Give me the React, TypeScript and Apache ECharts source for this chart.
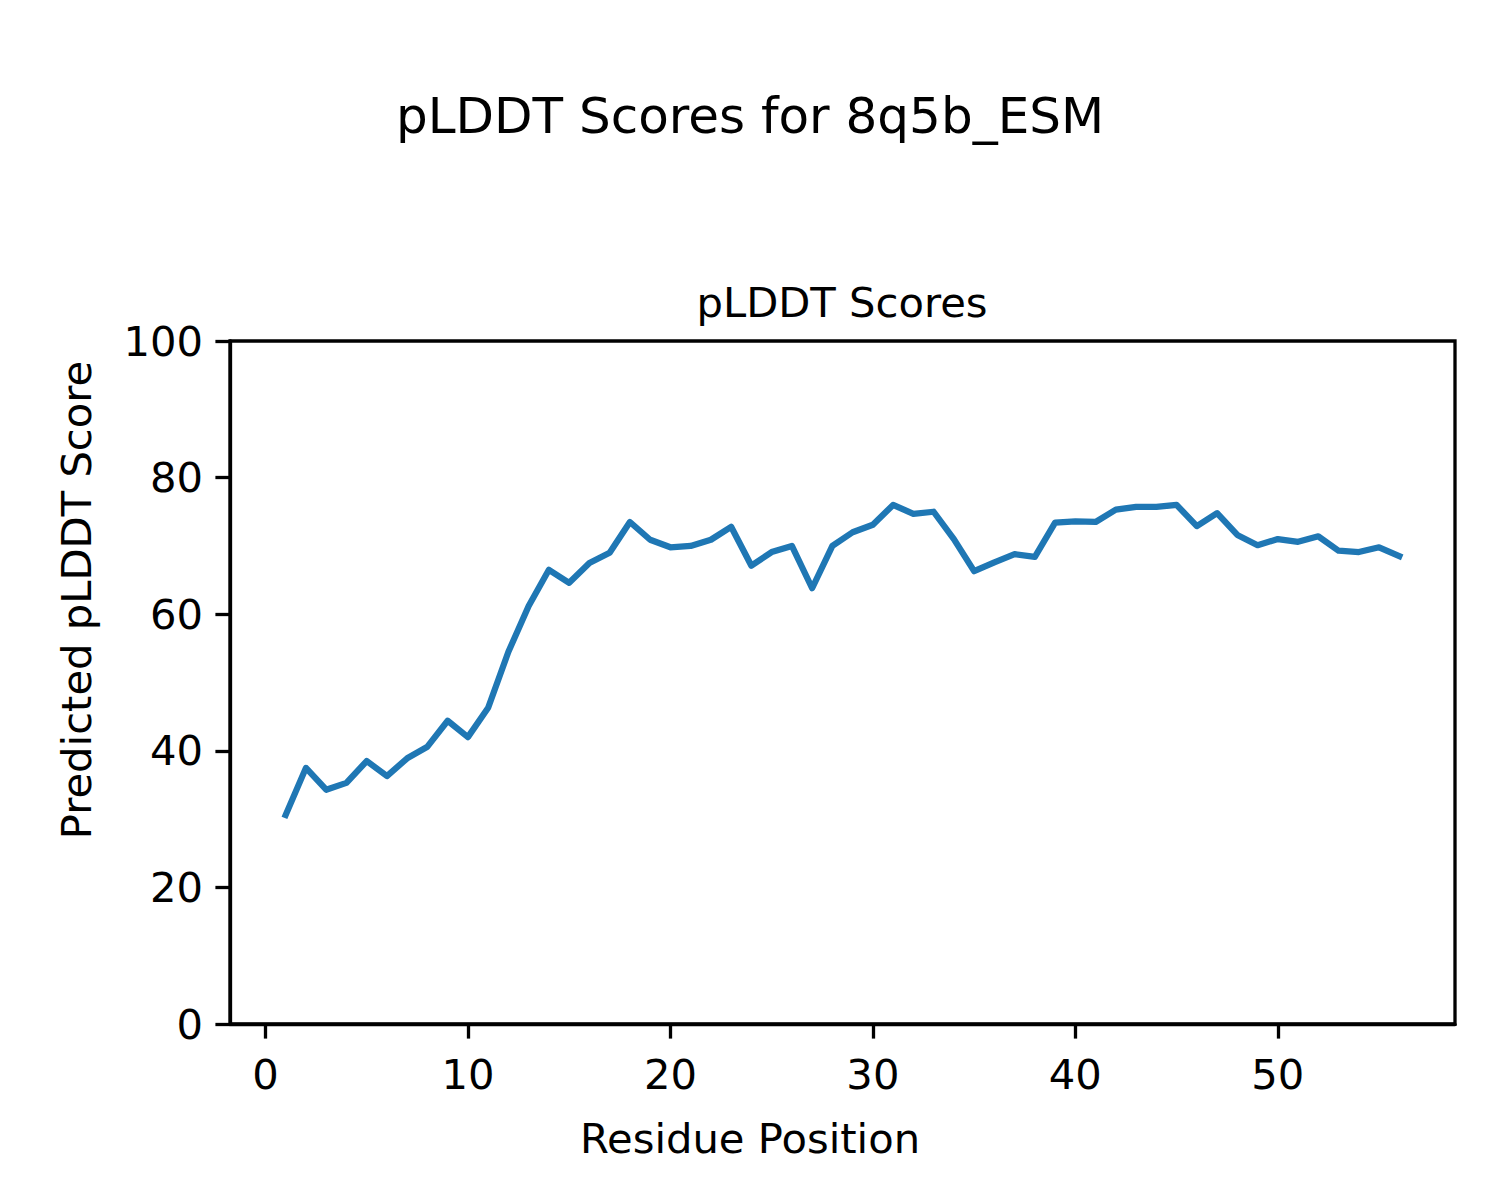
import React, { useEffect, useRef } from "react";
import * as echarts from "echarts";

const residues: number[] = Array.from({ length: 56 }, (_, i) => i + 1);
const plddt: number[] = [
  30.6, 37.5, 34.3, 35.3, 38.5, 36.3, 38.9, 40.6, 44.4, 42.0,
  46.3, 54.5, 61.2, 66.5, 64.6, 67.5, 69.0, 73.5, 70.9, 69.8,
  70.0, 70.9, 72.8, 67.1, 69.1, 70.0, 63.8, 70.0, 72.0, 73.1,
  76.0, 74.7, 75.0, 71.0, 66.3, 67.6, 68.8, 68.4, 73.4, 73.6,
  73.5, 75.3, 75.7, 75.7, 76.0, 72.9, 74.8, 71.6, 70.1, 71.0,
  70.6, 71.4, 69.3, 69.1, 69.8, 68.5,
];
const xTicks: number[] = [0, 10, 20, 30, 40, 50];
const suptitle = "pLDDT Scores for 8q5b_ESM";
const axesTitle = "pLDDT Scores";
const xName = "Residue Position";
const yName = "Predicted pLDDT Score";

const FONT = "DejaVu Sans";
const TICK_FS = 41.7;
const LW = 3.3;

export default function App() {
  const ref = useRef<HTMLDivElement>(null);
  useEffect(() => {
    document.body.style.margin = "0";
    const chart = echarts.init(ref.current!, undefined, { renderer: "svg" });
    const textStyle = { fontFamily: FONT, fill: "#000" };
    chart.setOption({
      animation: false,
      backgroundColor: "#fff",
      grid: {
        left: 230,
        top: 341,
        width: 1225,
        height: 683,
        show: true,
        borderColor: "#000",
        borderWidth: LW,
        backgroundColor: "transparent",
      },
      xAxis: {
        type: "value",
        min: -1.75,
        max: 58.75,
        splitLine: { show: false },
        axisLine: { show: true, onZero: false, lineStyle: { color: "#000", width: LW } },
        axisTick: {
          show: true,
          length: 14.6,
          inside: false,
          customValues: xTicks,
          lineStyle: { color: "#000", width: LW },
        },
        axisLabel: {
          customValues: xTicks,
          margin: 29,
          color: "#000",
          fontFamily: FONT,
          fontSize: TICK_FS,
        },
      },
      yAxis: {
        type: "value",
        min: 0,
        max: 100,
        interval: 20,
        splitLine: { show: false },
        axisLine: { show: true, onZero: false, lineStyle: { color: "#000", width: LW } },
        axisTick: { show: true, length: 14.6, lineStyle: { color: "#000", width: LW } },
        axisLabel: {
          margin: 27,
          color: "#000",
          fontFamily: FONT,
          fontSize: TICK_FS,
        },
      },
      series: [
        {
          type: "line",
          data: residues.map((r, i) => [r, plddt[i]]),
          showSymbol: false,
          symbol: "none",
          lineStyle: { color: "#1f77b4", width: 6.25, cap: "square", join: "round" },
          itemStyle: { color: "#1f77b4" },
        },
      ],
      graphic: [
        {
          type: "text",
          x: 750,
          y: 116,
          style: { ...textStyle, text: suptitle, fontSize: 50, align: "center", verticalAlign: "middle" },
        },
        {
          type: "text",
          x: 842,
          y: 302,
          style: { ...textStyle, text: axesTitle, fontSize: TICK_FS, align: "center", verticalAlign: "middle" },
        },
        {
          type: "text",
          x: 750,
          y: 1138,
          style: { ...textStyle, text: xName, fontSize: TICK_FS, align: "center", verticalAlign: "middle" },
        },
        {
          type: "text",
          x: 76,
          y: 600,
          rotation: Math.PI / 2,
          style: { ...textStyle, text: yName, fontSize: TICK_FS, align: "center", verticalAlign: "middle" },
        },
      ],
    });
    return () => chart.dispose();
  }, []);
  return <div ref={ref} style={{ width: 1500, height: 1200 }} />;
}
